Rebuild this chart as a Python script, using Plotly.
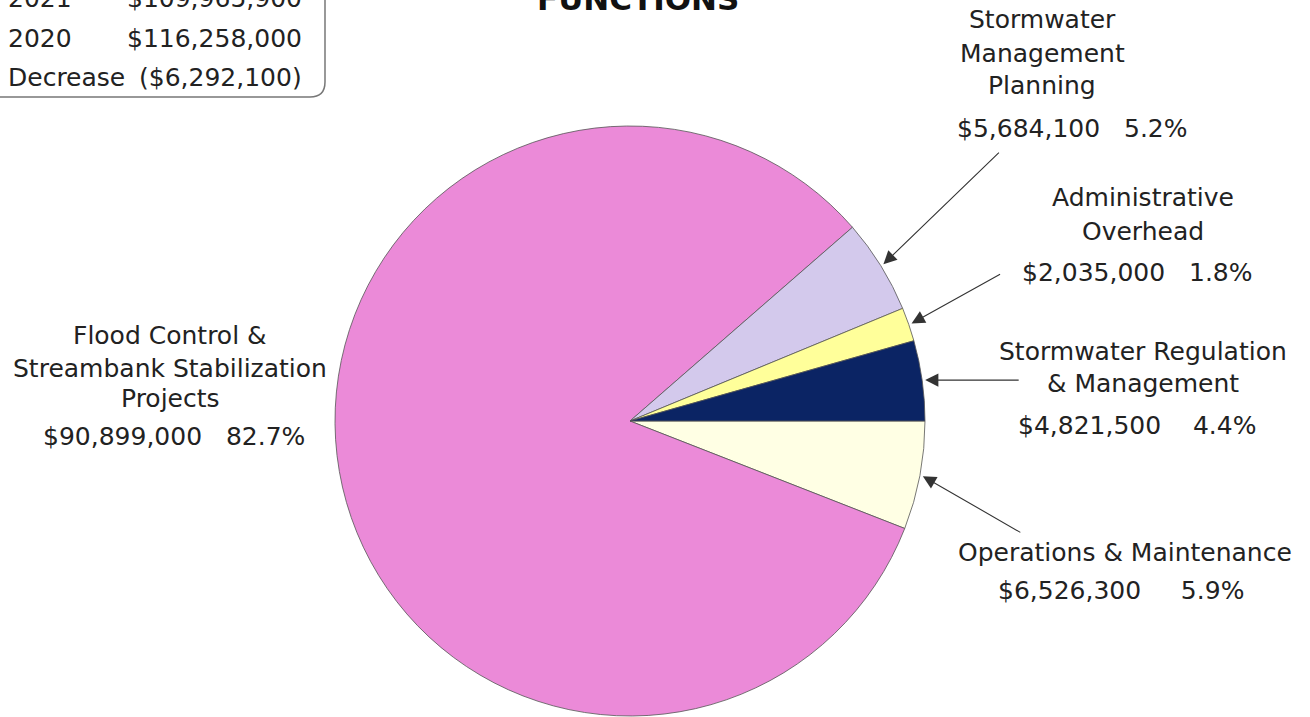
import math
import plotly.graph_objects as go

# ---------------- data (clockwise from 3 o'clock) ----------------
labels = [
    "Operations & Maintenance",
    "Flood Control & Streambank Stabilization Projects",
    "Stormwater Management Planning",
    "Administrative Overhead",
    "Stormwater Regulation & Management",
]
values = [6526300, 90899000, 5684100, 2035000, 4821500]
percents = [5.9, 82.7, 5.2, 1.8, 4.4]
label_lines = [
    ["Operations & Maintenance"],
    ["Flood Control &", "Streambank Stabilization", "Projects"],
    ["Stormwater", "Management", "Planning"],
    ["Administrative", "Overhead"],
    ["Stormwater Regulation", "& Management"],
]
colors = ["#FFFFE4", "#EB8AD8", "#D3C9EC", "#FFFF9A", "#0B2464"]

summary_labels = ["2021", "2020", "Decrease"]
summary_values = ["$109,965,900", "$116,258,000", "($6,292,100)"]
title_text = "FUNCTIONS"

# ---------------- layout constants ----------------
W, H = 1310, 717
CX, CY, R = 630, 421, 295  # pie centre / radius in pixels
FONT = "DejaVu Sans"
FS = 25
TXT = "#222222"


def px(x):
    return x / W


def py(y):
    return 1 - y / H


fig = go.Figure(
    go.Pie(
        labels=labels,
        values=values,
        sort=False,
        direction="clockwise",
        rotation=90,
        marker=dict(colors=colors, line=dict(color="#555555", width=0.8)),
        textinfo="none",
        hoverinfo="label+value+percent",
        showlegend=False,
        domain=dict(x=[px(CX - R), px(CX + R)], y=[py(CY + R), py(CY - R)]),
    )
)

annotations = []

# label text placement (style): name-line x, name-line ys, amount x, amount y, gap
placement = [
    (1125, [552], 1121, 590, 5),
    (170, [335, 368, 399], 174, 436, 3),
    (1042, [20, 53, 85], 1072, 128, 3),
    (1143, [198, 232], 1137, 272, 3),
    (1143, [351, 383], 1137, 425, 4),
]
# arrow tail offsets (pixels, relative to head); None = no arrow
arrow_tails = [(99, 57), None, (117, -113), (90, -50), (95, 0)]

total = sum(values)
cum = 0.0
for i, v in enumerate(values):
    lx, lys, ax_, ay_, gap = placement[i]
    for line, ly in zip(label_lines[i], lys):
        annotations.append(dict(
            x=px(lx), y=py(ly), xref="paper", yref="paper", text=line,
            showarrow=False, xanchor="center", yanchor="middle",
            font=dict(family=FONT, size=FS, color=TXT)))
    amount = f"${v:,}" + "\u00a0" * gap + f"{percents[i]}%"
    annotations.append(dict(
        x=px(ax_), y=py(ay_), xref="paper", yref="paper", text=amount,
        showarrow=False, xanchor="center", yanchor="middle",
        font=dict(family=FONT, size=FS, color=TXT)))
    # arrow head at middle of slice on the rim (clockwise from 3 o'clock)
    frac_mid = (cum + v / 2) / total
    cum += v
    ang = 2 * math.pi * frac_mid
    if arrow_tails[i] is not None:
        hx = CX + (R + 3) * math.cos(ang)
        hy = CY + (R + 3) * math.sin(ang)
        tx, ty = arrow_tails[i]
        annotations.append(dict(
            x=px(hx), y=py(hy), xref="paper", yref="paper", text="",
            showarrow=True, ax=tx, ay=ty, arrowhead=2, arrowsize=2.4,
            arrowwidth=1.1, arrowcolor="#333333", standoff=0, startstandoff=0))

# summary box rows
row_y = [-1, 38, 78]
for lab, val, ry in zip(summary_labels, summary_values, row_y):
    annotations.append(dict(
        x=px(6), y=py(ry), xref="paper", yref="paper", text=lab,
        showarrow=False, xanchor="left", yanchor="middle",
        font=dict(family=FONT, size=FS, color=TXT)))
    annotations.append(dict(
        x=px(304), y=py(ry), xref="paper", yref="paper", text=val,
        showarrow=False, xanchor="right", yanchor="middle",
        font=dict(family=FONT, size=FS, color=TXT)))

# title (cut off at top)
annotations.append(dict(
    x=px(638), y=py(19), xref="paper", yref="paper", text=f"<b>{title_text}</b>",
    showarrow=False, xanchor="center", yanchor="bottom",
    font=dict(family=FONT, size=31, color="#111111")))


def P(x, y):
    return f"{px(x):.5f},{py(y):.5f}"


box_path = (f"M {P(-10, -20)} L {P(325, -20)} L {P(325, 82)} "
            f"Q {P(325, 97)} {P(310, 97)} L {P(-10, 97)} Z")

fig.update_layout(
    width=W, height=H,
    margin=dict(l=0, r=0, t=0, b=0),
    paper_bgcolor="white", plot_bgcolor="white",
    annotations=annotations,
    shapes=[dict(type="path", path=box_path, xref="paper", yref="paper",
                 line=dict(color="#777777", width=1.5), fillcolor="rgba(0,0,0,0)")],
)

fig.write_html("out.html", config={"displayModeBar": False},
               post_script="document.body.style.margin='0px';")
